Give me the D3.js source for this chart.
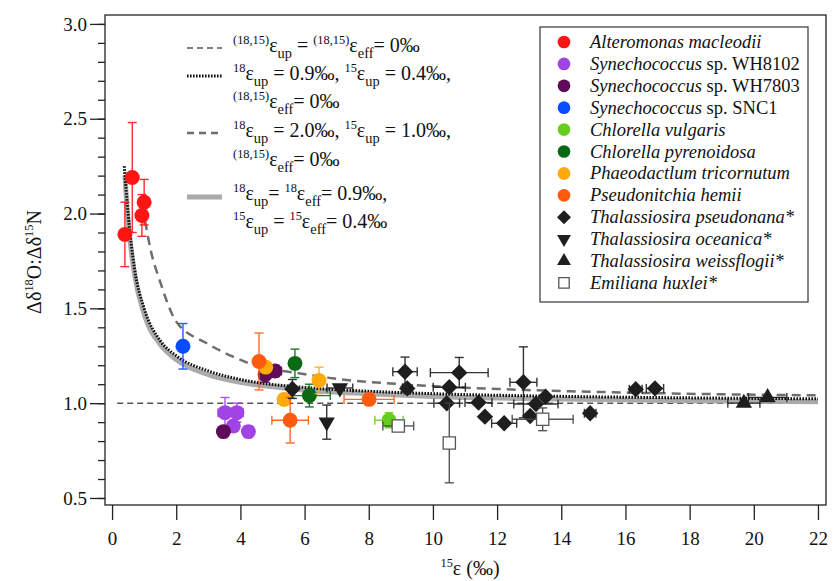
<!DOCTYPE html>
<html>
<head>
<meta charset="utf-8">
<script src="https://cdn.jsdelivr.net/npm/d3@7"></script>
<style>
body { margin: 0; background: #fff; }
svg, svg text { font-family: "Liberation Serif", "Times New Roman", Times, serif; }
</style>
</head>
<body>
<div></div>
<script>
var width = 834,
    height = 581;

// each point: [15eps, ratio, x error, y error]
var alteromonas = [[0.40, 1.89, 0, 0.17], [0.63, 2.19, 0, 0.29], [1.00, 2.06, 0, 0.12], [0.93, 1.99, 0, 0.11]];
var wh8102 = [[3.52, 0.95, 0.22, 0.08], [3.89, 0.95, 0.20, 0.05], [3.78, 0.88, 0, 0], [4.25, 0.85, 0, 0.03]];
var wh7803 = [[3.47, 0.85, 0, 0], [4.77, 1.15, 0, 0.04], [5.08, 1.17, 0.20, 0.03]];
var snc1 = [[2.21, 1.30, 0, 0.12]];
var vulgaris = [[8.63, 0.91, 0.44, 0.04]];
var pyrenoidosa = [[5.70, 1.21, 0, 0.075], [6.15, 1.04, 0.65, 0.06]];
var phaeo = [[4.79, 1.19, 0, 0], [5.36, 1.02, 0, 0], [6.45, 1.12, 0, 0.07]];
var pseudonitchia = [[4.58, 1.22, 0, 0.15], [5.55, 0.91, 0.57, 0.12], [8.01, 1.02, 0.78, 0]];
var pseudonana = [[5.62, 1.075, 0, 0.05], [9.13, 1.166, 0.38, 0.077], [9.20, 1.078, 0.15, 0],
    [10.51, 1.084, 0.5, 0], [10.43, 1.00, 0.40, 0], [10.82, 1.161, 0.9, 0.08], [11.42, 1.003, 0.42, 0],
    [11.62, 0.929, 0, 0], [12.22, 0.894, 0.39, 0], [12.82, 1.110, 0.42, 0.187], [13.03, 0.932, 0, 0],
    [13.21, 0.996, 0.69, 0], [13.51, 1.034, 0, 0], [14.90, 0.947, 0.18, 0], [16.32, 1.073, 0.2, 0],
    [16.92, 1.078, 0.27, 0]];
var oceanica = [[6.69, 0.90, 0, 0.09], [7.10, 1.08, 0.4, 0]];
var weissflogii = [[19.69, 1.00, 0.5, 0], [20.43, 1.03, 0.6, 0]];
var huxlei = [[8.92, 0.88, 0.48, 0], [10.51, 0.79, 0, 0.21], [13.42, 0.915, 0.95, 0.06]];

// model curves
var curveDotted = [[0.38, 2.25], [0.5, 2.0], [0.7, 1.71], [1.0, 1.5], [1.5, 1.33], [2, 1.25], [3, 1.17],
    [4, 1.125], [6, 1.083], [8, 1.063], [10, 1.05], [14, 1.036], [18, 1.028], [22, 1.023]];
var curveGray = [[0.4, 2.2], [0.5, 1.96], [0.7, 1.68], [1.0, 1.47], [1.5, 1.31], [2, 1.23], [3, 1.15],
    [4, 1.11], [6, 1.07], [8, 1.05], [10, 1.035], [14, 1.022], [18, 1.013], [22, 1.008]];
var curveDashed = [[1.03, 1.96], [1.2, 1.81], [1.5, 1.64], [2, 1.43], [2.95, 1.316], [3.77, 1.245],
    [4.5, 1.197], [5.86, 1.157], [7, 1.128], [9, 1.10], [12, 1.075], [16, 1.056], [22, 1.041]];
var baseline = [[0.16, 1.0], [22, 1.0]];

var xTicks = d3.range(0, 23, 2);
var yTicks = [0.5, 1.0, 1.5, 2.0, 2.5, 3.0];
var yMinor = d3.range(5, 31).map(function (d) { return d / 10; });

var series = [
    {name: "Alteromonas macleodii", extra: "", data: alteromonas, color: "#ff1414", shape: "circle"},
    {name: "Synechococcus", extra: " sp. WH8102", data: wh8102, color: "#a044e4", shape: "circle"},
    {name: "Synechococcus", extra: " sp. WH7803", data: wh7803, color: "#5e0c58", shape: "circle"},
    {name: "Synechococcus", extra: " sp. SNC1", data: snc1, color: "#0a4cff", shape: "circle"},
    {name: "Chlorella vulgaris", extra: "", data: vulgaris, color: "#66cc1e", shape: "circle"},
    {name: "Chlorella pyrenoidosa", extra: "", data: pyrenoidosa, color: "#0a6a14", shape: "circle"},
    {name: "Phaeodactlum tricornutum", extra: "", data: phaeo, color: "#ffaa0a", shape: "circle"},
    {name: "Pseudonitchia hemii", extra: "", data: pseudonitchia, color: "#ff5a0e", shape: "circle"},
    {name: "Thalassiosira pseudonana*", extra: "", data: pseudonana, color: "#1e1e1e", shape: "diamond"},
    {name: "Thalassiosira oceanica*", extra: "", data: oceanica, color: "#1e1e1e", shape: "down"},
    {name: "Thalassiosira weissflogii*", extra: "", data: weissflogii, color: "#1e1e1e", shape: "up"},
    {name: "Emiliana huxlei*", extra: "", data: huxlei, color: "#444", shape: "square"}
];

var serif = "'Liberation Serif', 'Times New Roman', Times, serif";

var svg = d3.select("div")
    .append("svg")
    .attr("width", width)
    .attr("height", height)
    .attr("font-family", serif);

var x = d3.scaleLinear().domain([-0.22, 22.25]).range([105, 826]),
    y = d3.scaleLinear().domain([0.463, 3.047]).range([505, 15]);

// frame
svg.append("rect")
    .attr("x", x.range()[0]).attr("y", y.range()[1])
    .attr("width", x.range()[1] - x.range()[0])
    .attr("height", y.range()[0] - y.range()[1])
    .attr("fill", "none").attr("stroke", "#222").attr("stroke-width", 1.3);

var gx = svg.append("g")
    .attr("transform", "translate(0," + y.range()[0] + ")")
    .call(d3.axisBottom(x).tickValues(xTicks).tickSize(15).tickFormat(d3.format("d")));
gx.selectAll("text").attr("y", 40).attr("dy", 0);

var gyMinor = svg.append("g")
    .attr("transform", "translate(" + x.range()[0] + ",0)")
    .call(d3.axisLeft(y).tickValues(yMinor).tickSize(7).tickFormat(""));

var gy = svg.append("g")
    .attr("transform", "translate(" + x.range()[0] + ",0)")
    .call(d3.axisLeft(y).tickValues(yTicks).tickSize(15).tickPadding(3).tickFormat(d3.format(".1f")));

svg.selectAll(".domain").remove();
[gx, gy, gyMinor].forEach(function (g) { g.attr("font-family", serif).attr("font-size", 19); });
svg.selectAll(".tick line").attr("stroke", "#222").attr("stroke-width", 1.3);
svg.selectAll(".tick text").attr("fill", "#111");

// rich text helper: parts = [[text, "sup"|"sub"|undefined], ...]
function rich(sel, parts, fs) {
    var off = 0;
    parts.forEach(function (p) {
        var target = p[1] === "sup" ? -0.42 * fs : p[1] === "sub" ? 0.3 * fs : 0;
        var t = sel.append("tspan").text(p[0]).attr("dy", target - off);
        if (p[1]) t.attr("font-size", fs * (p[1] === "sup" ? 0.62 : 0.72));
        off = target;
    });
    return sel;
}

// axis titles
rich(svg.append("text")
    .attr("transform", "translate(41,262) rotate(-90)")
    .attr("text-anchor", "middle").attr("font-size", 20).attr("fill", "#111"),
    [["Δδ"], ["18", "sup"], ["O:Δδ"], ["15", "sup"], ["N"]], 20);

rich(svg.append("text")
    .attr("x", 470).attr("y", 575)
    .attr("text-anchor", "middle").attr("font-size", 20).attr("fill", "#111"),
    [["15", "sup"], ["ε (‰)"]], 20);

// curves
var line = d3.line()
    .x(function (d) { return x(d[0]); })
    .y(function (d) { return y(d[1]); })
    .curve(d3.curveMonotoneX);

svg.append("path").datum(baseline).attr("d", line)
    .attr("fill", "none").attr("stroke", "#555").attr("stroke-width", 1.5).attr("stroke-dasharray", "6,4");
svg.append("path").datum(curveGray).attr("d", line)
    .attr("fill", "none").attr("stroke", "#aaa").attr("stroke-width", 5);
svg.append("path").datum(curveDashed).attr("d", line)
    .attr("fill", "none").attr("stroke", "#6e6e6e").attr("stroke-width", 2.5).attr("stroke-dasharray", "9,6");
svg.append("path").datum(curveDotted).attr("d", line)
    .attr("fill", "none").attr("stroke", "#111").attr("stroke-width", 3).attr("stroke-dasharray", "1.6,1.4");

// markers
function symbolPath(shape, s) {
    if (shape === "circle") return d3.symbol(d3.symbolCircle, 175 * s * s)();
    if (shape === "diamond") return d3.symbol(d3.symbolSquare, 135 * s * s)();
    if (shape === "square") return d3.symbol(d3.symbolSquare, 150 * s * s)();
    return d3.symbol(d3.symbolTriangle, 115 * s * s)();
}
function symbolRot(shape) {
    return shape === "diamond" ? " rotate(45)" : shape === "down" ? " rotate(180)" : "";
}

var cap = 4.5;
series.forEach(function (s) {
    var g = svg.append("g");
    var eg = g.selectAll(".err").data(s.data).enter().append("g")
        .attr("stroke", s.color).attr("stroke-width", 1.4).attr("opacity", 0.9);
    eg.filter(function (d) { return d[3] > 0; }).each(function (d) {
        var e = d3.select(this);
        e.append("line").attr("x1", x(d[0])).attr("x2", x(d[0]))
            .attr("y1", y(d[1] - d[3])).attr("y2", y(d[1] + d[3]));
        [d[1] - d[3], d[1] + d[3]].forEach(function (v) {
            e.append("line").attr("x1", x(d[0]) - cap).attr("x2", x(d[0]) + cap)
                .attr("y1", y(v)).attr("y2", y(v));
        });
    });
    eg.filter(function (d) { return d[2] > 0; }).each(function (d) {
        var e = d3.select(this);
        e.append("line").attr("y1", y(d[1])).attr("y2", y(d[1]))
            .attr("x1", x(d[0] - d[2])).attr("x2", x(d[0] + d[2]));
        [d[0] - d[2], d[0] + d[2]].forEach(function (v) {
            e.append("line").attr("y1", y(d[1]) - cap).attr("y2", y(d[1]) + cap)
                .attr("x1", x(v)).attr("x2", x(v));
        });
    });
    g.selectAll(".pt").data(s.data).enter().append("path")
        .attr("transform", function (d) {
            return "translate(" + x(d[0]) + "," + y(d[1]) + ")" + symbolRot(s.shape);
        })
        .attr("d", symbolPath(s.shape, 1))
        .attr("fill", s.shape === "square" ? "#fff" : s.color)
        .attr("stroke", s.shape === "square" ? "#555" : "none")
        .attr("stroke-width", 1.3);
});

// species legend
var lg = svg.append("g");
lg.append("rect").attr("x", 540).attr("y", 27).attr("width", 268).attr("height", 275)
    .attr("fill", "#fff").attr("stroke", "#444").attr("stroke-width", 1.3);
series.forEach(function (s, i) {
    var ly = 42 + i * 21.9;
    lg.append("path")
        .attr("transform", "translate(564," + ly + ")" + symbolRot(s.shape))
        .attr("d", symbolPath(s.shape, 0.85))
        .attr("fill", s.shape === "square" ? "#fff" : s.color)
        .attr("stroke", s.shape === "square" ? "#555" : "none")
        .attr("stroke-width", 1.3);
    var t = lg.append("text").attr("x", 590).attr("y", ly + 6).attr("font-size", 18.5).attr("fill", "#111");
    t.append("tspan").attr("font-style", "italic").text(s.name);
    if (s.extra) t.append("tspan").text(s.extra);
});

// model legend
var ml = svg.append("g").attr("fill", "#111").attr("font-size", 20);
var effZero = [["(18,15)", "sup"], ["ε"], ["eff", "sub"], ["= 0‰"]];
var modelRows = [
    {ly: 48, stroke: "#555", w: 1.5, dash: "6,4", parts: [
        [["(18,15)", "sup"], ["ε"], ["up", "sub"], [" = "], ["(18,15)", "sup"], ["ε"], ["eff", "sub"], ["= 0‰"]]], base: [52]},
    {ly: 76, stroke: "#111", w: 3, dash: "1.6,1.4", parts: [
        [["18", "sup"], ["ε"], ["up", "sub"], [" = 0.9‰, "], ["15", "sup"], ["ε"], ["up", "sub"], [" = 0.4‰,"]], effZero], base: [80, 108]},
    {ly: 133, stroke: "#6e6e6e", w: 2.5, dash: "7,5", parts: [
        [["18", "sup"], ["ε"], ["up", "sub"], [" = 2.0‰, "], ["15", "sup"], ["ε"], ["up", "sub"], [" = 1.0‰,"]], effZero], base: [137, 166]},
    {ly: 197, stroke: "#aaa", w: 5, dash: null, parts: [
        [["18", "sup"], ["ε"], ["up", "sub"], ["= "], ["18", "sup"], ["ε"], ["eff", "sub"], ["= 0.9‰,"]],
        [["15", "sup"], ["ε"], ["up", "sub"], [" = "], ["15", "sup"], ["ε"], ["eff", "sub"], ["= 0.4‰"]]], base: [200, 228]}
];
modelRows.forEach(function (r) {
    ml.append("line").attr("x1", 187).attr("x2", 222).attr("y1", r.ly).attr("y2", r.ly)
        .attr("stroke", r.stroke).attr("stroke-width", r.w)
        .attr("stroke-dasharray", r.dash);
    r.parts.forEach(function (p, j) {
        rich(ml.append("text").attr("x", 233).attr("y", r.base[j]), p, 20);
    });
});
</script>
</body>
</html>
